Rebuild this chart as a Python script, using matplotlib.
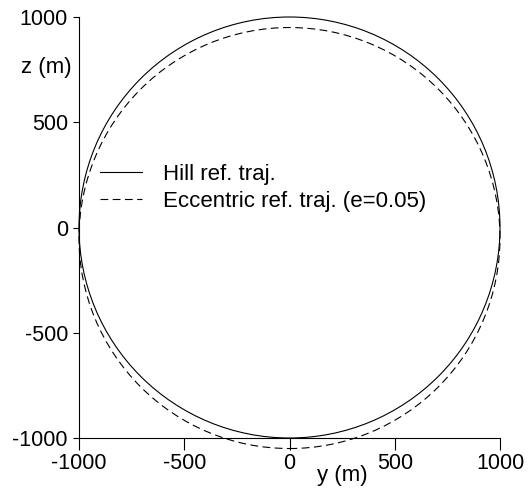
import matplotlib
matplotlib.use("Agg")
import matplotlib.pyplot as plt
from matplotlib.patches import Ellipse
from matplotlib.lines import Line2D

plt.rcParams['font.family'] = ['Liberation Sans', 'DejaVu Sans']
plt.rcParams['axes.unicode_minus'] = False

# Data
labels = ["Hill ref. traj.", "Eccentric ref. traj. (e=0.05)"]
centers_y = [0, 0]          # y (m)
centers_z = [0, -50]        # z (m)
widths = [2000, 2000]       # full extent in y (m)
heights = [2000, 2000]      # full extent in z (m)
xticks = [-1000, -500, 0, 500, 1000]
yticks = [-1000, -500, 0, 500, 1000]

styles = ['-', (0, (7, 4))]

W, H = 528, 488
fig = plt.figure(figsize=(W / 100, H / 100), dpi=100)
ax = fig.add_axes([79 / W, (H - 438) / H, 421 / W, 421 / H])

handles = []
for cy, cz, w, h, ls, lab in zip(centers_y, centers_z, widths, heights, styles, labels):
    e = Ellipse((cy, cz), w, h, fill=False, edgecolor='black', linewidth=0.8,
                linestyle=ls, clip_on=False)
    ax.add_patch(e)
    handles.append(Line2D([], [], color='black', linewidth=0.8, linestyle=ls, label=lab))

ax.set_xlim(-1000, 1000)
ax.set_ylim(-1000, 1000)
ax.set_xticks(xticks)
ax.set_yticks(yticks)
ax.spines['top'].set_visible(False)
ax.spines['right'].set_visible(False)
ax.spines['left'].set_linewidth(0.8)
ax.spines['bottom'].set_linewidth(0.8)
ax.tick_params(axis='x', direction='out', length=8.5, width=0.8, pad=2.5, labelsize=15.5)
ax.tick_params(axis='y', direction='out', length=4, width=0.8, pad=4, labelsize=15.5)

ax.text(-0.017, 0.881, "z (m)", transform=ax.transAxes, ha='right', va='center', fontsize=16)
ax.text(0.625, -0.09, "y (m)", transform=ax.transAxes, ha='center', va='center', fontsize=16)

leg = ax.legend(handles=handles, loc='center left', frameon=False, fontsize=16,
                bbox_to_anchor=(100 / W, (H - 188) / H), bbox_transform=fig.transFigure,
                borderpad=0, borderaxespad=0, handlelength=1.9, handletextpad=0.95,
                labelspacing=0.25)

fig.savefig("out.png", dpi=100)
